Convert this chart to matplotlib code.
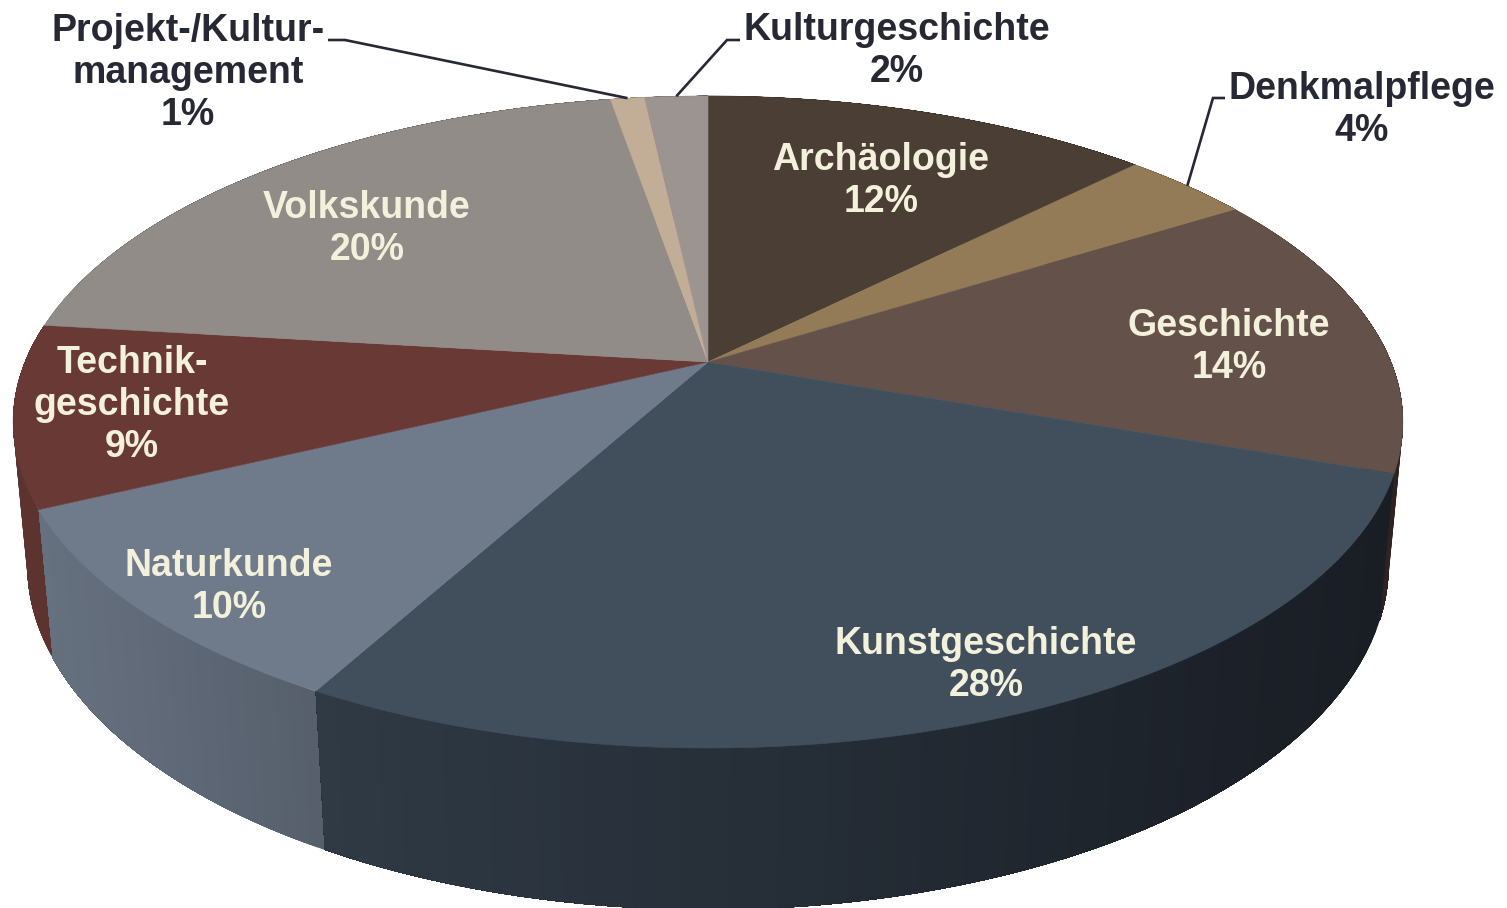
import numpy as np
import matplotlib
matplotlib.use('Agg')
import matplotlib.pyplot as plt

plt.rcParams['font.family'] = ['Liberation Sans', 'DejaVu Sans']

# clockwise from 12 o'clock, values in percent
names = ['Archäologie', 'Denkmalpflege', 'Geschichte', 'Kunstgeschichte', 'Naturkunde',
         'Technik-\ngeschichte', 'Volkskunde', 'Projekt-/Kultur-\nmanagement', 'Kulturgeschichte']
values = [12.49, 3.61, 14.3, 27.6, 9.9, 9.0, 20.4, 0.95, 1.75]
colors = ['#4a3e35', '#937b58', '#64524a', '#414f5d', '#6f7a8a',
          '#693a35', '#928c88', '#c2ae96', '#9c9490']
# wall shading, colour at the left and right end of each slice's wall
wall_left = ['#2b2420', '#4a3e2c', '#2e2320', '#2f3a45', '#667180',
             '#5c332e', '#4a4643', '#60574b', '#4e4a48']
wall_right = ['#2b2420', '#4a3e2c', '#2e2320', '#191d24', '#565e6b',
              '#5c332e', '#4a4643', '#60574b', '#4e4a48']
label_x = [881, 1362, 1229, 986, 229, 132, 367, 188, 897]
label_y = [181, 110, 347, 665, 587, 405, 229, 73, 51]
outside = [1, 7, 8]
# elbow of the leader lines: label end, then knee
leader_ends = {1: (1225, 98), 7: (328, 40), 8: (740, 40)}
leader_knees = {1: (1213, 98), 7: (345, 40), 8: (727, 40)}

# perspective of the pie
cx, cy = 708, 362
A, B, k = 683, 315, 0.184
m, d = 0.02, 143


def project(theta, low=False):
    w = 1 + k * np.cos(theta) + (m if low else 0)
    y = -B * np.cos(theta) + (d if low else 0)
    return cx + A * np.sin(theta) / w, cy + y / w


fig = plt.figure(figsize=(15.07, 9.08), dpi=100)
ax = fig.add_axes([0, 0, 1, 1])
ax.set_xlim(0, 1507)
ax.set_ylim(908, 0)
ax.axis('off')

edges = np.cumsum([0] + values) / sum(values) * 2 * np.pi
order = np.argsort([-np.cos((edges[i] + edges[i + 1]) / 2) for i in range(len(values))])

# walls, back to front; each strip runs to the wedge's end and the next paints over it, so no seams
for i in order:
    t = np.linspace(edges[i], edges[i + 1], 60)
    x0, y0 = project(t)
    x1, y1 = project(t, low=True)
    lo, hi = min(x0.min(), x1.min()), max(x0.max(), x1.max())
    c0 = np.array(matplotlib.colors.to_rgb(wall_left[i]))
    c1 = np.array(matplotlib.colors.to_rgb(wall_right[i]))
    for j in range(len(t) - 1):
        f = ((x0[j] + x0[j + 1]) / 2 - lo) / max(hi - lo, 1)
        col = c0 + (c1 - c0) * f
        ax.fill(np.r_[x0[j:], x1[j:][::-1]], np.r_[y0[j:], y1[j:][::-1]],
                color=col, lw=0, zorder=1)

# top faces
for i in range(len(values)):
    t = np.linspace(edges[i], edges[i + 1], 200)
    x, y = project(t)
    ax.fill(np.r_[cx, x], np.r_[cy, y], color=colors[i], lw=0.4, zorder=2)

for i in outside:
    mid = (edges[i] + edges[i + 1]) / 2
    px, py = project(mid)
    ax.plot([leader_ends[i][0], leader_knees[i][0], px], [leader_ends[i][1], leader_knees[i][1], py],
            color='#262833', lw=1.9, zorder=3, solid_capstyle='butt', solid_joinstyle='miter')

for i in range(len(values)):
    col = '#262833' if i in outside else '#f3f0dc'
    ax.text(label_x[i], label_y[i], f'{names[i]}\n{round(values[i])}%', color=col, fontsize=27,
            fontweight='bold', ha='center', va='center', linespacing=1.21, zorder=4)

fig.savefig('out.png', dpi=100)
